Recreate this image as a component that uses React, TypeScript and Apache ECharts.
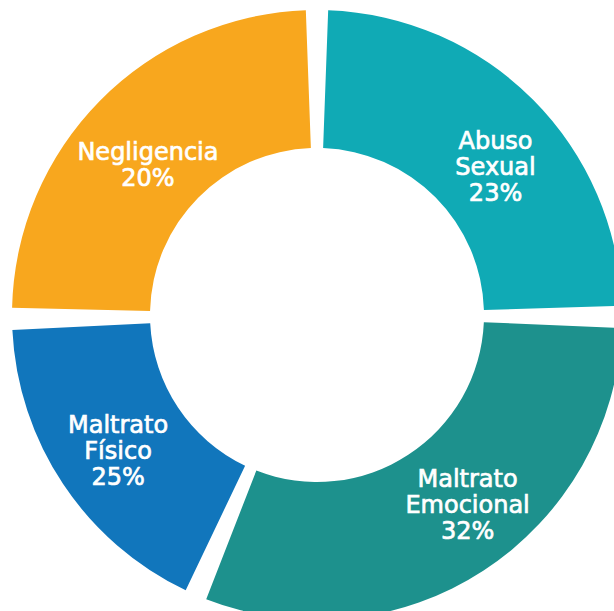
import React, { useEffect, useRef } from "react";
import * as echarts from "echarts";

// Categories in clockwise order starting from 12 o'clock
const categories = ["Abuso Sexual", "Maltrato Emocional", "Maltrato Físico", "Negligencia"];
// Share of the ring each slice occupies
const sliceShares = [25.1, 31.4, 18.3, 25.2];
// Percentages printed on the slices
const printedPercents = [23, 32, 25, 20];

const colors = ["#10AAB5", "#1D918D", "#1176BC", "#F8A71E"];
// Label nudges away from the mid-ring point (layout, not data)
const labelOffsets: [number, number][] = [
  [9, 20],
  [20, -10],
  [0, 4],
  [1, 18],
];

export default function App() {
  const ref = useRef<HTMLDivElement>(null);

  useEffect(() => {
    if (!ref.current) return;
    const chart = echarts.init(ref.current, undefined, { renderer: "svg" });
    const data = categories.map((name, i) => ({
      name,
      value: sliceShares[i],
      itemStyle: { color: colors[i] },
      label: { offset: labelOffsets[i] },
    }));
    chart.setOption({
      animation: false,
      series: [
        {
          type: "pie",
          center: [317, 315],
          radius: [167, 305],
          startAngle: 90,
          clockwise: true,
          padAngle: 4.2,
          silent: true,
          avoidLabelOverlap: false,
          emphasis: { disabled: true },
          itemStyle: { borderWidth: 0 },
          label: {
            show: true,
            position: "inside",
            rotate: 0,
            color: "#ffffff",
            textBorderColor: "#ffffff",
            textBorderWidth: 0.7,
            fontFamily: "DejaVu Sans",
            fontSize: 24,
            lineHeight: 26,
            align: "center",
            formatter: (p: any) =>
              p.name.split(" ").join("\n") + "\n" + printedPercents[p.dataIndex] + "%",
          },
          labelLine: { show: false },
          data,
        },
      ],
    });
    return () => chart.dispose();
  }, []);

  return (
    <div
      ref={ref}
      style={{ position: "fixed", left: 0, top: 0, width: 614, height: 611, background: "#ffffff" }}
    />
  );
}
